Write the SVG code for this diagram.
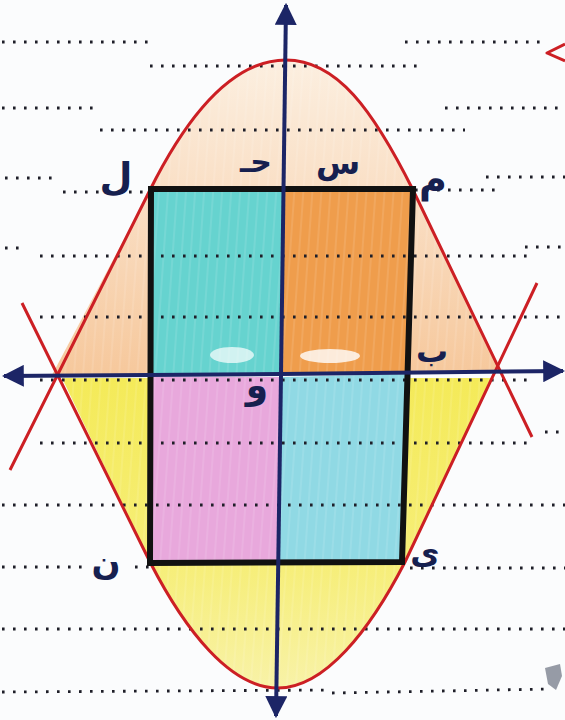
<svg xmlns="http://www.w3.org/2000/svg" width="565" height="720" viewBox="0 0 565 720">
<defs>
<linearGradient id="peach" x1="0" y1="60" x2="0" y2="375" gradientUnits="userSpaceOnUse">
<stop offset="0" stop-color="#fcefe0"/>
<stop offset="0.5" stop-color="#f9dcc0"/>
<stop offset="1" stop-color="#f6c89c"/>
</linearGradient>
<linearGradient id="yellow" x1="0" y1="375" x2="0" y2="690" gradientUnits="userSpaceOnUse">
<stop offset="0" stop-color="#f4ea58"/>
<stop offset="0.6" stop-color="#f6ee78"/>
<stop offset="1" stop-color="#f8f2a8"/>
</linearGradient>
<pattern id="streak" width="9" height="60" patternUnits="userSpaceOnUse" patternTransform="rotate(4)">
<rect x="0" y="0" width="2" height="60" fill="#ffffff" opacity="0.1"/>
</pattern>
<marker id="ah" viewBox="0 0 10 10" refX="9" refY="5" markerWidth="5.5" markerHeight="5.5" orient="auto" markerUnits="strokeWidth">
<path d="M0,0 L10,5 L0,10 Z" fill="#1c2566"/>
</marker>
</defs>
<style>
.dots{stroke:#1e1e28;stroke-width:2.8;stroke-dasharray:2.6 8.4;fill:none}
.axis{stroke:#1c2566;stroke-width:4;fill:none;marker-end:url(#ah)}
.curve{stroke:#cc1f24;stroke-width:3;fill:none;stroke-linejoin:round}
.lbl{font-family:"DejaVu Sans",sans-serif;font-weight:bold;fill:#16204f;text-anchor:middle}
</style>
<rect width="565" height="720" fill="#fbfcfd"/>

<g id="regions">
<path id="upperArea" d="M52,375 L150,190 C190,110 235,60 286,60 C337,60 373,110 413,190 L502,372 Z" fill="url(#peach)"/>
<path d="M52,375 L150,190 C190,110 235,60 286,60 C337,60 373,110 413,190 L502,372 Z" fill="url(#streak)"/>
<path id="lowerArea" d="M62,378 L150,562 C185,630 230,688 278,688 C325,688 370,630 405,562 L492,378 Z" fill="url(#yellow)"/>
<path d="M62,378 L150,562 C185,630 230,688 278,688 C325,688 370,630 405,562 L492,378 Z" fill="url(#streak)"/>
<polygon id="qTL" points="151,190 284,190 281,375 151,375" fill="#66d3cf"/>
<polygon id="qTR" points="284,190 413,190 406,372 281,373" fill="#ef9d4c"/>
<polygon id="qBL" points="151,377 281,377 279,562 150,562" fill="#e8a8dc"/>
<polygon id="qBR" points="281,377 406,374 402,560 279,560" fill="#90d9e4"/>
<polygon points="151,190 284,190 281,375 151,375" fill="url(#streak)"/>
<polygon points="284,190 413,190 406,372 281,373" fill="url(#streak)"/>
<polygon points="151,377 281,377 279,562 150,562" fill="url(#streak)"/>
<polygon points="281,377 406,374 402,560 279,560" fill="url(#streak)"/>
<ellipse cx="232" cy="355" rx="22" ry="8" fill="#ffffff" opacity="0.7"/>
<ellipse cx="330" cy="356" rx="30" ry="7" fill="#ffffff" opacity="0.8"/>
</g>

<g id="ruledLines">
<line class="dots" x1="2" y1="42" x2="150" y2="42"/>
<line class="dots" x1="405" y1="42" x2="548" y2="42"/>
<line class="dots" x1="150" y1="66" x2="420" y2="66"/>
<line class="dots" x1="2" y1="108" x2="100" y2="108"/>
<line class="dots" x1="445" y1="108" x2="565" y2="108"/>
<line class="dots" x1="100" y1="130" x2="465" y2="130"/>
<line class="dots" x1="5" y1="178" x2="60" y2="178"/>
<line class="dots" x1="486" y1="177" x2="565" y2="177"/>
<line class="dots" x1="63" y1="192" x2="150" y2="192"/>
<line class="dots" x1="415" y1="190" x2="495" y2="190"/>
<line class="dots" x1="5" y1="248" x2="25" y2="248"/>
<line class="dots" x1="40" y1="256" x2="530" y2="256"/>
<line class="dots" x1="525" y1="247" x2="565" y2="247"/>
<line class="dots" x1="40" y1="317" x2="565" y2="317"/>
<line class="dots" x1="40" y1="380" x2="530" y2="380"/>
<line class="dots" x1="40" y1="443" x2="535" y2="443"/>
<line class="dots" x1="545" y1="432" x2="565" y2="432"/>
<line class="dots" x1="2" y1="505" x2="565" y2="505"/>
<line class="dots" x1="2" y1="567" x2="90" y2="567"/>
<line class="dots" x1="135" y1="567" x2="150" y2="567"/>
<line class="dots" x1="410" y1="568" x2="565" y2="568"/>
<line class="dots" x1="2" y1="629" x2="565" y2="629"/>
<line class="dots" x1="2" y1="692" x2="330" y2="690"/>
<line class="dots" x1="332" y1="693" x2="550" y2="689"/>
</g>

<g id="curves">
<path id="upperArch" class="curve" d="M10,470 L150,190 C190,110 235,60 286,60 C337,60 373,110 413,190 L532,437"/>
<path id="lowerArch" class="curve" d="M22,303 L150,562 C185,630 230,688 278,688 C325,688 370,630 405,562 L537,283"/>
<path id="redMark" class="curve" d="M565,44 L547,53 L565,61"/>
</g>

<g id="rectangle">
<polygon points="151,189 413,189 402,562 150,563" fill="none" stroke="#111111" stroke-width="6" stroke-linejoin="miter"/>
</g>

<g id="axes">
<line class="axis" x1="281" y1="375" x2="286" y2="5"/>
<line class="axis" x1="281" y1="375" x2="276" y2="716"/>
<line class="axis" x1="281" y1="374" x2="4" y2="376"/>
<line class="axis" x1="281" y1="374" x2="563" y2="371"/>
</g>

<g id="labels">
<text class="lbl" x="116" y="190" font-size="38">ل</text>
<text class="lbl" x="256" y="172" font-size="30">حـ</text>
<text class="lbl" x="338" y="174" font-size="32">س</text>
<text class="lbl" x="433" y="192" font-size="38">م</text>
<text class="lbl" x="432" y="362" font-size="32">ب</text>
<text class="lbl" x="257" y="398" font-size="36">و</text>
<text class="lbl" x="106" y="574" font-size="34">ن</text>
<text class="lbl" x="425" y="564" font-size="32">ى</text>
</g>

<g id="smudge">
<path d="M545,668 L560,664 L562,676 L556,690 L548,684 Z" fill="#7d8290" opacity="0.8"/>
</g>
</svg>
